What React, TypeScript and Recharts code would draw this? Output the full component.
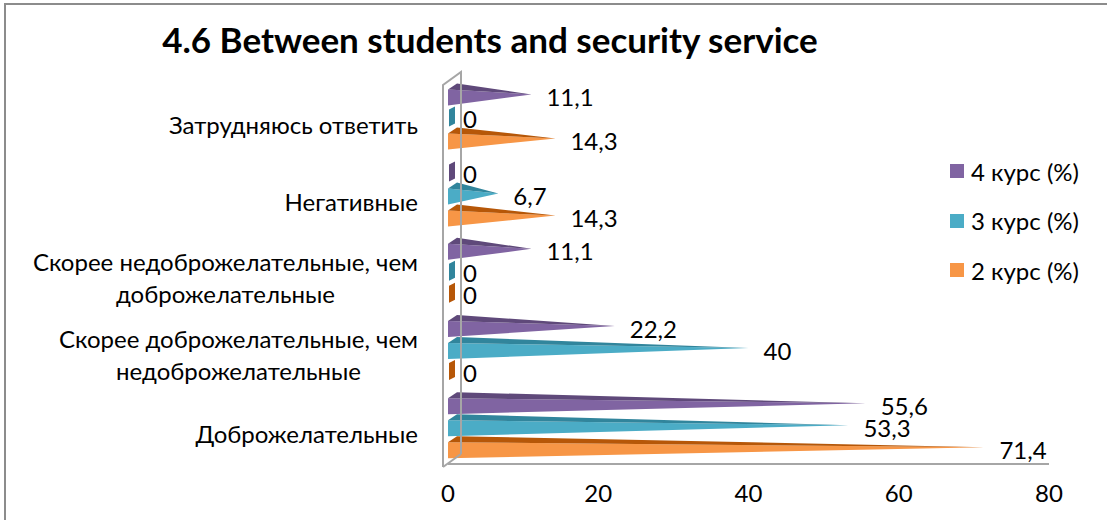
import React from 'react';
import { BarChart, Bar, XAxis, YAxis, LabelList, ReferenceLine } from 'recharts';

const categories = [
  'Затрудняюсь ответить',
  'Негативные',
  'Скорее недоброжелательные, чем\nдоброжелательные',
  'Скорее доброжелательные, чем\nнедоброжелательные',
  'Доброжелательные',
];
const course4 = [11.1, 0, 11.1, 22.2, 55.6];
const course3 = [0, 6.7, 0, 40, 53.3];
const course2 = [14.3, 14.3, 0, 0, 71.4];
const seriesNames = ['4 курс (%)', '3 курс (%)', '2 курс (%)'];
const xTicks = [0, 20, 40, 60, 80];

const FONT = 'Lato, "Noto Sans", sans-serif';
const FS = 24;

const series = [
  { key: 'c4', name: seriesNames[0], fill: '#8064A2', dark: '#5F497A' },
  { key: 'c3', name: seriesNames[1], fill: '#4BACC6', dark: '#31859C' },
  { key: 'c2', name: seriesNames[2], fill: '#F79646', dark: '#B65708' },
];

const data = categories.map((name, i) => ({
  name,
  c4: course4[i],
  c3: course3[i],
  c2: course2[i],
}));

let ctx: CanvasRenderingContext2D | null = null;
const textWidth = (text: string, font: string) => {
  if (!ctx) ctx = document.createElement('canvas').getContext('2d');
  if (!ctx) return text.length * 11;
  ctx.font = font;
  return ctx.measureText(text).width;
};

// 3D pyramid look: a front triangle plus a dark top sliver
const PyramidBar = (props: any) => {
  const { x, y, width, height, fill, dark } = props;
  if (!width || width < 1) {
    return (
      <polygon
        points={`${x + 1},${y + 4} ${x + 7},${y + 1} ${x + 7},${y + height - 4} ${x + 1},${y + height - 1}`}
        fill={dark}
      />
    );
  }
  const tipY = y + height * 0.5;
  return (
    <g>
      <polygon points={`${x},${y + 6} ${x},${y + height} ${x + width},${tipY}`} fill={fill} />
      <polygon points={`${x},${y + 6} ${x + 9},${y} ${x + width},${tipY}`} fill={dark} />
    </g>
  );
};

const ValueLabel = (props: any) => {
  const { x, y, width, height, value } = props;
  return (
    <text
      x={x + width + 15}
      y={y + height / 2 + 2}
      dominantBaseline="central"
      fontSize={FS}
      fontFamily={FONT}
      fill="#000"
    >
      {String(value).replace('.', ',')}
    </text>
  );
};

const CategoryTick = (props: any) => {
  const { x, y, payload } = props;
  const lines: string[] = String(payload.value).split('\n');
  const font = `${FS}px ${FONT}`;
  if (lines.length === 1) {
    return (
      <text x={x} y={y + 8} textAnchor="end" dominantBaseline="central" fontSize={FS} fontFamily={FONT} fill="#000">
        {lines[0]}
      </text>
    );
  }
  const w = Math.max(...lines.map((l) => textWidth(l, font)));
  const cx = x - w / 2;
  return (
    <g>
      {lines.map((l, i) => (
        <text
          key={i}
          x={cx}
          y={y - 10 + i * 32}
          textAnchor="middle"
          dominantBaseline="central"
          fontSize={FS}
          fontFamily={FONT}
          fill="#000"
        >
          {l}
        </text>
      ))}
    </g>
  );
};

// side wall of the 3D plot
const Wall = (props: any) => {
  const { x1, y1, y2 } = props;
  const top = Math.min(y1, y2);
  const bottom = Math.max(y1, y2);
  const fx = x1 - 5;
  const bx = x1 + 13;
  return (
    <g stroke="#A6A6A6" strokeWidth={2} fill="none">
      <polyline points={`${fx},${bottom + 3} ${fx},${top + 7} ${bx},${top - 6} ${bx},${bottom - 10}`} />
      <line x1={fx} y1={bottom + 3} x2={bx} y2={bottom - 10} />
    </g>
  );
};

export default function App() {
  return (
    <div
      style={{
        position: 'absolute',
        left: 0,
        top: 0,
        width: 1107,
        height: 520,
        overflow: 'hidden',
        background: '#fff',
        fontFamily: FONT,
      }}
    >
      <div
        style={{
          position: 'absolute',
          left: 4,
          top: 3,
          width: 1200,
          height: 600,
          borderLeft: '2px solid #8c8c8c',
          borderTop: '2px solid #8c8c8c',
        }}
      />
      <div
        style={{
          position: 'absolute',
          left: 0,
          width: 980,
          top: 16,
          textAlign: 'center',
          fontWeight: 700,
          fontSize: 35,
          lineHeight: '46px',
          color: '#000',
        }}
      >
        4.6 Between students and security service
      </div>
      <div style={{ position: 'absolute', left: 0, top: 0 }}>
        <BarChart
          width={1107}
          height={520}
          data={data}
          layout="vertical"
          margin={{ top: 78, right: 58, bottom: 0, left: 0 }}
          barCategoryGap="7%"
          barGap={0}
        >
          <XAxis
            type="number"
            domain={[0, 80]}
            ticks={xTicks}
            axisLine={{ stroke: '#A6A6A6', strokeWidth: 2 }}
            tickLine={false}
            tickMargin={15}
            height={56}
            tick={{ fontSize: FS, fontFamily: FONT, fill: '#000' }}
          />
          <YAxis
            type="category"
            dataKey="name"
            width={448}
            axisLine={false}
            tickLine={false}
            tickSize={0}
            tickMargin={30}
            interval={0}
            tick={<CategoryTick />}
          />
          <ReferenceLine x={0} ifOverflow="visible" shape={<Wall />} />
          {series.map((s) => (
            <Bar
              key={s.key}
              dataKey={s.key}
              name={s.name}
              fill={s.fill}
              isAnimationActive={false}
              shape={(p: any) => <PyramidBar {...p} fill={s.fill} dark={s.dark} />}
            >
              <LabelList dataKey={s.key} content={<ValueLabel />} />
            </Bar>
          ))}
        </BarChart>
      </div>
      {series.map((s, i) => (
        <div
          key={s.key}
          style={{
            position: 'absolute',
            left: 950,
            top: 171 + i * 49.5 - 15,
            height: 30,
            display: 'flex',
            alignItems: 'center',
            fontSize: FS,
            color: '#000',
          }}
        >
          <span style={{ width: 14, height: 14, background: s.fill, marginRight: 7, display: 'inline-block' }} />
          {s.name}
        </div>
      ))}
    </div>
  );
}
